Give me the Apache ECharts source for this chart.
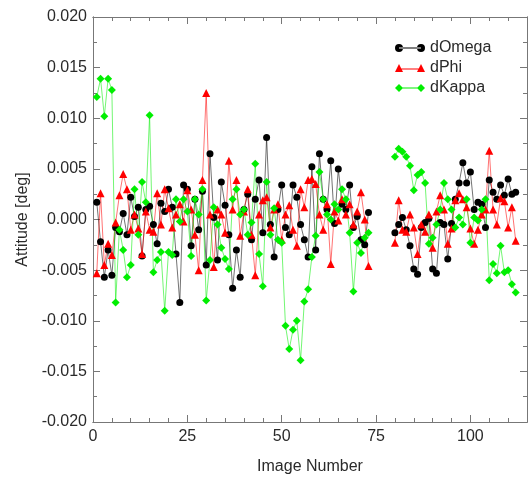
<!DOCTYPE html>
<html>
<head>
<meta charset="utf-8">
<script src="https://cdn.jsdelivr.net/npm/echarts@6/dist/echarts.min.js"></script>
<style>html,body{margin:0;padding:0;background:#fff}#c{width:528px;height:480px}</style>
</head>
<body>
<div id="c"></div>
<script>
// Image numbers 1..112 (images 74..79 have no data)
const imageNumbers = [];
for (let i = 1; i <= 112; i++) imageNumbers.push(i);

const gap = [null, null, null, null, null, null];

const dOmega = [
  0.0017,-0.0022,-0.0057,-0.0030,-0.0055,-0.0008,-0.0012,0.0006,-0.0015,0.0022,
  0.0003,0.0012,-0.0036,0.0010,0.0013,-0.0005,-0.0024,0.0016,0.0008,0.0030,
  0.0012,-0.0034,-0.0082,0.0034,0.0030,-0.0026,0.0020,-0.0010,0.0028,-0.0045,
  0.0065,0.0002,-0.0040,0.0037,0.0014,-0.0015,-0.0068,-0.0030,-0.0057,0.0010,
  0.0025,-0.0020,0.0020,0.0039,-0.0013,0.0081,-0.0005,-0.0037,0.0010,0.0034,
  -0.0008,-0.0015,0.0034,0.0022,-0.0005,-0.0020,-0.0037,0.0052,-0.0030,0.0065,
  0.0020,0.0010,0.0058,-0.0004,0.0050,0.0015,0.0010,0.0034,-0.0008,0.0003,
  -0.0020,-0.0025,0.0007
].concat(gap, [
  -0.0013,-0.0005,0.0002,-0.0010,-0.0026,-0.0049,-0.0054,-0.0008,-0.0003,0.0001,
  -0.0049,-0.0053,-0.0003,-0.0005,-0.0039,-0.0004,0.0020,0.0036,0.0056,0.0036,
  0.0047,0.0010,0.0017,0.0015,-0.0008,0.0039,0.0027,0.0020,0.0034,0.0024,
  0.0040,0.0025,0.0027
]);

const dPhi = [
  -0.0053,0.0026,-0.0045,-0.0024,-0.0035,-0.0003,0.0024,0.0045,0.0030,-0.0010,
  0.0005,-0.0009,-0.0034,0.0008,-0.0010,-0.0012,0.0026,-0.0005,0.0030,0.0011,
  -0.0008,0.0005,0.0015,-0.0002,0.0029,0.0010,-0.0015,-0.0050,0.0039,0.0125,
  0.0005,-0.0047,0.0010,0.0005,-0.0013,0.0058,0.0010,0.0039,-0.0016,0.0008,
  0.0030,-0.0015,-0.0055,0.0005,0.0019,0.0022,-0.0008,0.0010,0.0015,-0.0020,
  0.0005,0.0014,-0.0010,-0.0026,0.0030,0.0012,0.0039,0.0040,0.0035,0.0005,
  -0.0010,0.0015,-0.0044,0.0008,-0.0001,0.0020,0.0005,0.0015,-0.0005,0.0008,
  0.0027,0.0000,-0.0046
].concat(gap, [
  -0.0023,0.0019,-0.0010,-0.0012,0.0005,-0.0008,-0.0034,-0.0005,-0.0012,0.0005,
  -0.0028,0.0008,0.0024,0.0010,-0.0024,-0.0009,0.0019,0.0026,0.0020,0.0012,
  -0.0009,-0.0024,-0.0010,0.0005,0.0010,0.0068,0.0010,-0.0005,0.0021,0.0018,
  -0.0008,0.0012,-0.0021
]);

const dKappa = [
  0.0121,0.0139,0.0102,0.0139,0.0128,-0.0082,-0.0010,-0.0030,-0.0057,-0.0045,
  0.0030,-0.0015,0.0037,0.0017,0.0103,-0.0052,-0.0040,-0.0032,-0.0090,-0.0032,
  -0.0035,0.0020,-0.0002,0.0020,0.0008,-0.0036,0.0020,0.0005,0.0030,-0.0080,
  -0.0040,0.0012,-0.0005,-0.0028,-0.0039,-0.0049,0.0020,0.0030,0.0005,0.0010,
  -0.0015,-0.0003,0.0055,-0.0034,-0.0066,0.0037,-0.0015,0.0011,-0.0020,-0.0023,
  -0.0105,-0.0128,-0.0109,-0.0100,-0.0139,-0.0081,-0.0069,-0.0037,-0.0016,0.0047,
  0.0020,0.0005,0.0000,0.0015,0.0010,0.0030,0.0020,-0.0013,-0.0071,-0.0023,
  -0.0033,-0.0018,-0.0013
].concat(gap, [
  0.0062,0.0070,0.0067,0.0062,0.0053,0.0029,0.0044,0.0047,0.0036,-0.0024,
  -0.0018,-0.0005,0.0010,0.0036,0.0020,0.0010,-0.0008,0.0002,-0.0005,0.0020,
  -0.0023,0.0002,-0.0001,0.0010,0.0020,-0.0060,-0.0044,-0.0053,-0.0026,-0.0052,
  -0.0050,-0.0064,-0.0072
]);

const xTickLabels = ['0', '25', '50', '75', '100'];
const yTickLabels = ['-0.020','-0.015','-0.010','-0.005','0.000','0.005','0.010','0.015','0.020'];

function pairs(vals) {
  return imageNumbers.map((x, i) => [x, vals[i] === null ? '-' : vals[i]]);
}

const FONT = 'Liberation Sans';
const FS = 16;
const TXT = '#2a2a2a';
const AX = '#777';
const XMAX = 115;

function xAx(pos, interval, len, labels, extra) {
  return Object.assign({
    type: 'value', position: pos, min: 0, max: XMAX, interval: interval,
    axisLine: { show: true, onZero: false, lineStyle: { color: AX, width: 1 } },
    axisTick: { show: true, inside: true, length: len, lineStyle: { color: AX } },
    axisLabel: labels ? {
      show: true, fontFamily: FONT, fontSize: FS, color: TXT, margin: 7, showMaxLabel: false,
      formatter: v => { const s = String(Math.round(v)); return xTickLabels.indexOf(s) >= 0 ? s : ''; }
    } : { show: false },
    splitLine: { show: false }
  }, extra || {});
}
function yAx(pos, interval, len, labels, extra) {
  return Object.assign({
    type: 'value', position: pos, min: -0.02, max: 0.02, interval: interval,
    axisLine: { show: true, onZero: false, lineStyle: { color: AX, width: 1 } },
    axisTick: { show: true, inside: true, length: len, lineStyle: { color: AX } },
    axisLabel: labels ? {
      show: true, fontFamily: FONT, fontSize: FS, color: TXT, margin: 6,
      formatter: v => { const s = (Math.abs(v) < 1e-9 ? 0 : v).toFixed(3); return yTickLabels.indexOf(s) >= 0 ? s : ''; }
    } : { show: false },
    splitLine: { show: false }
  }, extra || {});
}

const chart = echarts.init(document.getElementById('c'), null, { renderer: 'canvas' });

function lineSeries(name, vals, color, symbol, size) {
  return {
    name: name, type: 'line', xAxisIndex: 0, yAxisIndex: 0,
    data: pairs(vals), symbol: symbol, symbolSize: size, showAllSymbol: true,
    connectNulls: false, animation: false,
    itemStyle: { color: color },
    lineStyle: { color: color, width: 1, opacity: 0.55 }
  };
}

const circ = 'path://M0,4a4,4 0 1,0 8,0a4,4 0 1,0 -8,0ZM4,3.5L26,3.5L26,4.5L4,4.5ZM22,4a4,4 0 1,0 8,0a4,4 0 1,0 -8,0Z';
const tri = 'path://M0,8L4,0L8,8ZM4,4.5L26,4.5L26,5.5L4,5.5ZM22,8L26,0L30,8Z';
const dia = 'path://M4,0L8,4L4,8L0,4ZM4,3.5L26,3.5L26,4.5L4,4.5ZM26,0L30,4L26,8L22,4Z';

chart.setOption({
  backgroundColor: '#fff',
  animation: false,
  textStyle: { fontFamily: FONT },
  grid: { left: 93, right: 1, top: 17, bottom: 58, containLabel: false },
  legend: {
    orient: 'vertical', left: 390, top: 35, itemWidth: 30, itemHeight: 8, itemGap: 4,
    textStyle: { fontFamily: FONT, fontSize: FS, color: TXT, lineHeight: 16 },
    data: [
      { name: 'dOmega', icon: circ },
      { name: 'dPhi', icon: tri },
      { name: 'dKappa', icon: dia }
    ]
  },
  xAxis: [
    xAx('bottom', 25, 7, true, { name: 'Image Number', nameLocation: 'middle', nameGap: 37,
      nameTextStyle: { fontFamily: FONT, fontSize: FS, color: TXT } }),
    xAx('bottom', 5, 4, false),
    xAx('top', 25, 7, false),
    xAx('top', 5, 4, false)
  ],
  yAxis: [
    yAx('left', 0.005, 7, true, { name: 'Attitude [deg]', nameLocation: 'middle', nameGap: 62, nameRotate: 90,
      nameTextStyle: { fontFamily: FONT, fontSize: FS, color: TXT } }),
    yAx('left', 0.0025, 4, false),
    yAx('right', 0.005, 7, false),
    yAx('right', 0.0025, 4, false)
  ],
  series: [
    lineSeries('dOmega', dOmega, '#000000', 'circle', 7),
    lineSeries('dPhi', dPhi, '#ff0000', 'triangle', 8),
    lineSeries('dKappa', dKappa, '#00ee00', 'diamond', 8)
  ]
});
</script>
</body>
</html>
